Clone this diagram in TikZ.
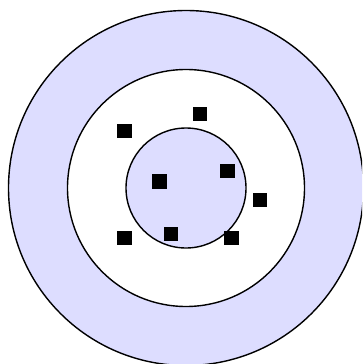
\documentclass[tikz,border=0pt]{standalone}
\definecolor{ringblue}{RGB}{221,221,255}
\tikzset{
  ring/.style={line width=1.4pt, draw=black},
  dot/.style={fill=black, inner sep=0pt, minimum width=14.5pt, minimum height=14.5pt},
}
\begin{document}
\begin{tikzpicture}[x=1pt,y=-1pt]
\useasboundingbox (0,0) rectangle (362,364);
\clip (0,0) rectangle (362,364);
\fill[white] (0,0) rectangle (362,364);
\draw[ring, fill=ringblue] (186,188) circle (177.5);
\draw[ring, fill=white] (186,188) circle (118.5);
\draw[ring, fill=ringblue] (186,188) circle (60);
\node[dot] (p1) at (200,114) {};
\node[dot] (p2) at (124.5,131) {};
\node[dot] (p3) at (159.5,181.7) {};
\node[dot] (p4) at (227.5,171) {};
\node[dot] (p5) at (260,200) {};
\node[dot] (p6) at (124.5,238) {};
\node[dot] (p7) at (171,234) {};
\node[dot] (p8) at (231.7,238) {};
\end{tikzpicture}
\end{document}
